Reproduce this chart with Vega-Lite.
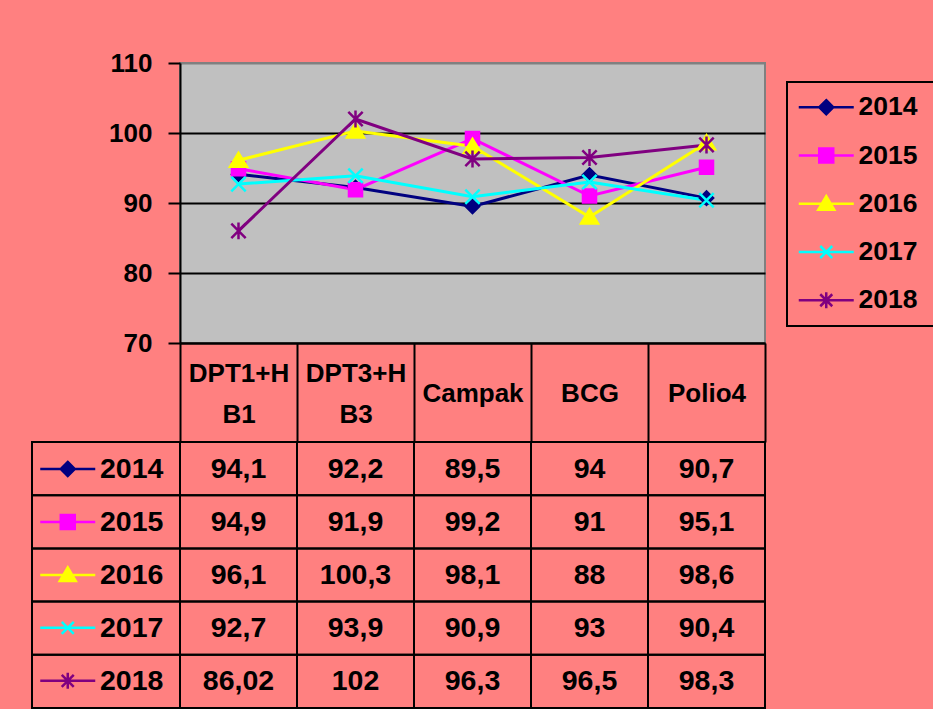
{
  "$schema": "https://vega.github.io/schema/vega-lite/v6.json",
  "background": "#FF8080",
  "padding": {"left": 31, "top": 49, "right": 0, "bottom": 0},
  "autosize": {"type": "pad"},
  "datasets": {
    "vals": [
      {"year": "2014", "cat": "DPT1+HB1", "value": 94.1},
      {"year": "2014", "cat": "DPT3+HB3", "value": 92.2},
      {"year": "2014", "cat": "Campak", "value": 89.5},
      {"year": "2014", "cat": "BCG", "value": 94},
      {"year": "2014", "cat": "Polio4", "value": 90.7},
      {"year": "2015", "cat": "DPT1+HB1", "value": 94.9},
      {"year": "2015", "cat": "DPT3+HB3", "value": 91.9},
      {"year": "2015", "cat": "Campak", "value": 99.2},
      {"year": "2015", "cat": "BCG", "value": 91},
      {"year": "2015", "cat": "Polio4", "value": 95.1},
      {"year": "2016", "cat": "DPT1+HB1", "value": 96.1},
      {"year": "2016", "cat": "DPT3+HB3", "value": 100.3},
      {"year": "2016", "cat": "Campak", "value": 98.1},
      {"year": "2016", "cat": "BCG", "value": 88},
      {"year": "2016", "cat": "Polio4", "value": 98.6},
      {"year": "2017", "cat": "DPT1+HB1", "value": 92.7},
      {"year": "2017", "cat": "DPT3+HB3", "value": 93.9},
      {"year": "2017", "cat": "Campak", "value": 90.9},
      {"year": "2017", "cat": "BCG", "value": 93},
      {"year": "2017", "cat": "Polio4", "value": 90.4},
      {"year": "2018", "cat": "DPT1+HB1", "value": 86.02},
      {"year": "2018", "cat": "DPT3+HB3", "value": 102},
      {"year": "2018", "cat": "Campak", "value": 96.3},
      {"year": "2018", "cat": "BCG", "value": 96.5},
      {"year": "2018", "cat": "Polio4", "value": 98.3}
    ],
    "years": [
      {"year": "2014"}, {"year": "2015"}, {"year": "2016"}, {"year": "2017"}, {"year": "2018"}
    ]
  },
  "columns": 2,
  "spacing": {"row": 99, "column": 0},
  "bounds": "flush",
  "resolve": {"legend": {"color": "independent"}},
  "concat": [
    {
      "width": 148,
      "height": 280,
      "data": {"name": "years"},
      "transform": [{"filter": "false"}],
      "mark": "point",
      "encoding": {}
    },
    {
      "width": 585,
      "height": 280,
      "data": {"name": "vals"},
      "view": {"fill": "#C0C0C0", "stroke": "#808080", "strokeWidth": 2},
      "encoding": {
        "x": {
          "field": "cat", "type": "nominal",
          "sort": ["DPT1+HB1", "DPT3+HB3", "Campak", "BCG", "Polio4"],
          "scale": {"type": "band", "paddingInner": 0, "paddingOuter": 0},
          "axis": {
            "title": null, "orient": "bottom", "tickBand": "extent", "tickSize": 99,
            "tickColor": "black", "tickWidth": 2, "domainColor": "black", "domainWidth": 2,
            "labelAngle": 0, "labelBaseline": "middle",
            "labelPadding": {"condition": {"test": "datum.value == 'DPT1+HB1' || datum.value == 'DPT3+HB3'", "value": -69}, "value": -49},
            "labelFontSize": 26, "labelFontWeight": "bold", "labelColor": "black",
            "labelLineHeight": 41, "grid": false,
            "labelExpr": "datum.value == 'DPT1+HB1' ? ['DPT1+H', 'B1'] : datum.value == 'DPT3+HB3' ? ['DPT3+H', 'B3'] : datum.label"
          }
        },
        "y": {
          "field": "value", "type": "quantitative",
          "scale": {"domain": [70, 110], "zero": false, "nice": false},
          "axis": {
            "title": null, "values": [70, 80, 90, 100, 110],
            "domainColor": "black", "domainWidth": 2, "tickColor": "black", "tickWidth": 2,
            "tickSize": 12, "labelPadding": 16, "labelFontSize": 26, "labelFontWeight": "bold",
            "labelColor": "black", "grid": true, "gridWidth": 2,
            "gridColor": {"condition": {"test": "datum.value == 110", "value": "#808080"}, "value": "black"}
          }
        }
      },
      "layer": [
        {
          "mark": {"type": "line", "strokeWidth": 3},
          "encoding": {
            "color": {
              "field": "year", "type": "nominal",
              "scale": {"domain": ["2014", "2015", "2016", "2017", "2018"], "range": ["#000080", "#FF00FF", "#FFFF00", "#00FFFF", "#800080"]},
              "legend": {
                "orient": "none", "direction": "vertical", "legendX": 607, "legendY": 19,
                "title": "\u00a0\u00a0\u00a0", "titleOrient": "right", "titlePadding": 10, "titleFontSize": 26,
                "padding": 12, "strokeColor": "black", "symbolSize": 400, "symbolStrokeWidth": 2.5,
                "symbolOffset": 14, "labelOffset": 19, "rowPadding": 21.25,
                "labelFontSize": 26.5, "labelFontWeight": "bold", "labelColor": "black",
                "encode": {
                  "legend": {"update": {"strokeWidth": {"value": 2}}},
                  "labels": {"update": {"text": {"signal": "datum.label + '\u00a0\u00a0\u00a0'"}}},
                  "symbols": {"update": {
                    "shape": {"signal": "['M-2.75,0H2.75M0,-0.7L0.7,0L0,0.7L-0.7,0Z','M-2.75,0H2.75M-0.7,-0.7H0.7V0.7H-0.7Z','M-2.75,0H2.75M0,-0.75L0.8,0.6L-0.8,0.6Z','M-2.75,0H2.75M-0.6,-0.6L0.6,0.6M-0.6,0.6L0.6,-0.6','M-2.75,0H2.75M-0.6,-0.6L0.6,0.6M-0.6,0.6L0.6,-0.6M0,-0.8V0.8'][indexof(['2014','2015','2016','2017','2018'], datum.value)]"},
                    "fill": {"signal": "['#000080','#FF00FF','#FFFF00','#00FFFF','#800080'][indexof(['2014','2015','2016','2017','2018'], datum.value)]"},
                    "stroke": {"signal": "['#000080','#FF00FF','#FFFF00','#00FFFF','#800080'][indexof(['2014','2015','2016','2017','2018'], datum.value)]"},
                    "opacity": {"value": 1}
                  }}
                }
              }
            }
          }
        },
        {
          "mark": {"type": "point", "filled": true, "size": 170, "strokeWidth": 2.5, "opacity": 1},
          "encoding": {
            "color": {
              "field": "year", "type": "nominal",
              "scale": {"domain": ["2014", "2015", "2016", "2017", "2018"], "range": ["#000080", "#FF00FF", "#FFFF00", "#00FFFF", "#800080"]}
            },
            "stroke": {
              "field": "year", "type": "nominal",
              "scale": {"domain": ["2014", "2015", "2016", "2017", "2018"], "range": ["#000080", "#FF00FF", "#FFFF00", "#00FFFF", "#800080"]},
              "legend": null
            },
            "shape": {
              "field": "year", "type": "nominal",
              "scale": {"domain": ["2014", "2015", "2016", "2017", "2018"], "range": ["diamond", "square", "M0,-1.15L1.3,1L-1.3,1Z", "M-1.1,-1.1L1.1,1.1M-1.1,1.1L1.1,-1.1", "M-1.1,-1.1L1.1,1.1M-1.1,1.1L1.1,-1.1M0,-1.3V1.3"]},
              "legend": null
            }
          }
        }
      ]
    },
    {
      "width": 148,
      "height": 266,
      "data": {"name": "years"},
      "encoding": {
        "y": {
          "field": "year", "type": "nominal",
          "sort": ["2014", "2015", "2016", "2017", "2018"],
          "scale": {"paddingInner": 0, "paddingOuter": 0},
          "axis": null
        }
      },
      "layer": [
        {"mark": {"type": "rect", "fill": "transparent", "stroke": "black", "strokeWidth": 2}},
        {
          "transform": [{"filter": "false"}],
          "mark": {"type": "line", "strokeWidth": 2.5},
          "encoding": {
            "color": {
              "field": "year", "type": "nominal",
              "scale": {"domain": ["2014", "2015", "2016", "2017", "2018"], "range": ["#000080", "#FF00FF", "#FFFF00", "#00FFFF", "#800080"]},
              "legend": {
                "orient": "none", "direction": "vertical", "legendX": 0, "legendY": 12.75, "title": null,
                "padding": 0, "symbolSize": 400, "symbolStrokeWidth": 2.5,
                "symbolOffset": 21.5, "labelOffset": 18, "rowPadding": 23.95,
                "labelFontSize": 28.5, "labelFontWeight": "bold", "labelColor": "black",
                "encode": {
                  "symbols": {"update": {
                    "shape": {"signal": "['M-2.75,0H2.75M0,-0.7L0.7,0L0,0.7L-0.7,0Z','M-2.75,0H2.75M-0.7,-0.7H0.7V0.7H-0.7Z','M-2.75,0H2.75M0,-0.75L0.8,0.6L-0.8,0.6Z','M-2.75,0H2.75M-0.6,-0.6L0.6,0.6M-0.6,0.6L0.6,-0.6','M-2.75,0H2.75M-0.6,-0.6L0.6,0.6M-0.6,0.6L0.6,-0.6M0,-0.8V0.8'][indexof(['2014','2015','2016','2017','2018'], datum.value)]"},
                    "fill": {"signal": "['#000080','#FF00FF','#FFFF00','#00FFFF','#800080'][indexof(['2014','2015','2016','2017','2018'], datum.value)]"},
                    "stroke": {"signal": "['#000080','#FF00FF','#FFFF00','#00FFFF','#800080'][indexof(['2014','2015','2016','2017','2018'], datum.value)]"},
                    "opacity": {"value": 1}
                  }}
                }
              }
            }
          }
        }
      ]
    },
    {
      "width": 585,
      "height": 266,
      "data": {"name": "vals"},
      "encoding": {
        "x": {
          "field": "cat", "type": "nominal",
          "sort": ["DPT1+HB1", "DPT3+HB3", "Campak", "BCG", "Polio4"],
          "scale": {"paddingInner": 0, "paddingOuter": 0},
          "axis": null
        },
        "y": {
          "field": "year", "type": "nominal",
          "sort": ["2014", "2015", "2016", "2017", "2018"],
          "scale": {"paddingInner": 0, "paddingOuter": 0},
          "axis": null
        }
      },
      "layer": [
        {"mark": {"type": "rect", "fill": "transparent", "stroke": "black", "strokeWidth": 2}},
        {
          "mark": {"type": "text", "fontWeight": "bold", "fontSize": 28.5, "color": "black"},
          "encoding": {"text": {"field": "value", "type": "quantitative", "format": "~g"}}
        }
      ]
    }
  ],
  "config": {
    "view": {"stroke": null},
    "font": "Liberation Sans",
    "locale": {"number": {"decimal": ",", "thousands": ".", "grouping": [3], "currency": ["", ""]}}
  }
}
